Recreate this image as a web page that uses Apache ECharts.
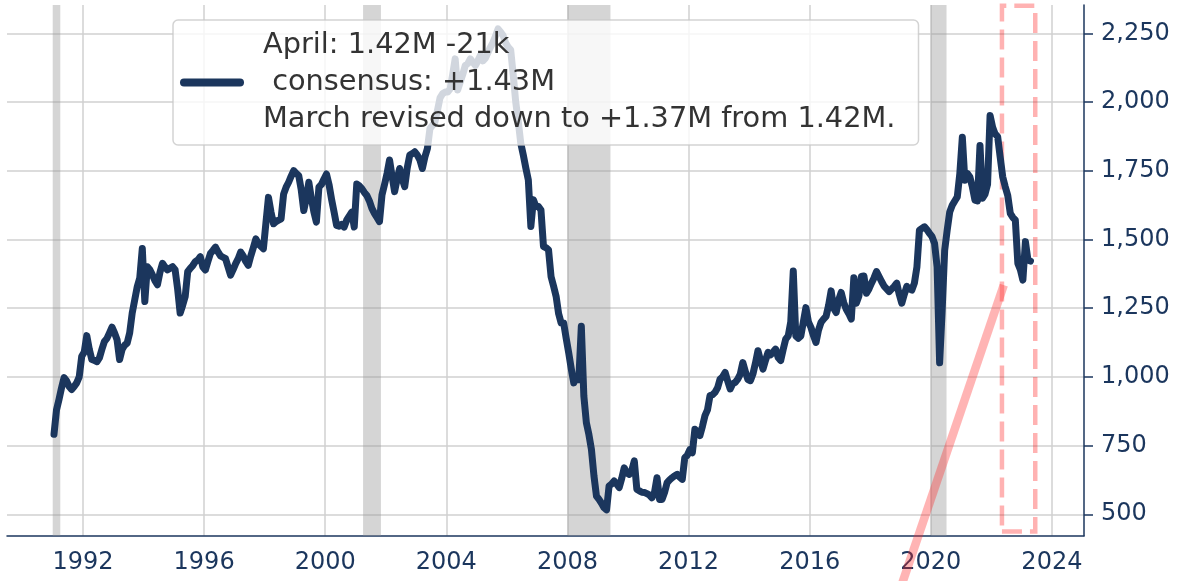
<!DOCTYPE html>
<html>
<head>
<meta charset="utf-8">
<script src="https://cdn.jsdelivr.net/npm/echarts@6/dist/echarts.min.js"></script>
<style>
html, body { margin: 0; padding: 0; background: #fff; }
#main { width: 1183px; height: 581px; }
</style>
</head>
<body>
<div id="main"></div>
<script>
// monthly building permits (thousands, SAAR), Jan 1991 .. Apr 2023
var startYear = 1991;
var permits1990s = [
  791, 880, 918, 960, 997, 985, 965, 954, 965, 978, 1000, 1075,
  1090, 1150, 1100, 1063, 1060, 1055, 1069, 1100, 1129, 1140, 1160, 1181,
  1160, 1135, 1063, 1100, 1115, 1123, 1160, 1232, 1280, 1328, 1360, 1467,
  1274, 1401, 1390, 1371, 1350, 1335, 1380, 1413, 1400, 1389, 1395, 1401,
  1390, 1320, 1232, 1260, 1292, 1383, 1395, 1405, 1419, 1425, 1437, 1400,
  1389, 1420, 1449, 1460, 1472, 1455, 1440, 1435, 1430, 1400, 1370, 1390,
  1412, 1430, 1454, 1440, 1420, 1406, 1440, 1470, 1502, 1485, 1475, 1466,
  1560, 1653, 1600, 1557, 1565, 1570, 1575, 1665, 1690, 1708, 1730, 1750,
  1740, 1732, 1680, 1605, 1650, 1708, 1650, 1600, 1563, 1690, 1700, 1720
];
var permits2000s = [
  1738, 1700, 1647, 1600, 1551, 1548, 1555, 1545, 1570, 1585, 1599, 1545,
  1702, 1695, 1685, 1671, 1660, 1640, 1613, 1595, 1580, 1565, 1662, 1700,
  1740, 1789, 1730, 1674, 1720, 1758, 1720, 1692, 1760, 1807, 1812, 1819,
  1807, 1790, 1758, 1800, 1831, 1903, 1915, 1928, 1970, 2015, 2030, 2036,
  2036, 2048, 2100, 2157, 2044, 2072, 2100, 2133, 2140, 2157, 2145, 2133,
  2150, 2170, 2150, 2160, 2180, 2200, 2217, 2240, 2266, 2255, 2242, 2215,
  2200, 2190, 2100, 2000, 1930, 1850, 1807, 1760, 1716, 1547, 1644, 1620,
  1620, 1607, 1474, 1470, 1462, 1365, 1330, 1293, 1230, 1196, 1196, 1140,
  1087, 1030, 978, 1002, 990, 1184, 930, 833, 790, 736, 640, 566,
  554, 540, 524, 516, 603, 610, 621, 610, 597, 630, 669, 650
];
var permits2010s = [
  645, 660, 694, 591, 585, 580, 579, 575, 570, 560, 580, 633,
  554, 554, 580, 615, 625, 633, 640, 645, 635, 627, 706, 715,
  735, 724, 809, 800, 786, 820, 859, 880, 932, 935, 944, 960,
  992, 1000, 1016, 985, 956, 975, 980, 992, 1010, 1052, 1020, 990,
  986, 1010, 1050, 1095, 1060, 1028, 1060, 1089, 1080, 1090, 1101, 1070,
  1059, 1100, 1137, 1149, 1200, 1385, 1149, 1140, 1149, 1200, 1252, 1200,
  1180, 1150, 1125, 1170, 1198, 1210, 1220, 1260, 1313, 1250, 1234, 1280,
  1307, 1270, 1246, 1230, 1210, 1361, 1268, 1294, 1365, 1367, 1304, 1320,
  1341, 1360, 1383, 1365, 1347, 1330, 1320, 1310, 1320, 1329, 1341, 1300,
  1268, 1300, 1329, 1320, 1316, 1341, 1400, 1534, 1540, 1546, 1535, 1522
];
var permits2020s = [
  1510, 1485, 1400, 1051, 1240, 1460, 1534, 1600, 1624, 1640, 1655, 1739,
  1872, 1715, 1740, 1727, 1690, 1643, 1640, 1842, 1650, 1665, 1700, 1951,
  1908, 1884, 1874, 1800, 1728, 1692, 1660, 1595, 1580, 1571, 1413, 1390,
  1352, 1492, 1425, 1421
];

var recessions = [[1991.0, 1991.25], [2001.25, 2001.84], [2008.0, 2009.42], [2020.0, 2020.52]];
var boxX = [2022.35, 2023.45];
var boxY = [437, 2350];
var arrowX = [2018.75, 2022.41];
var arrowY = [150, 1334];
var xTicks = [1992, 1996, 2000, 2004, 2008, 2012, 2016, 2020, 2024];
var yTicks = [500, 750, 1000, 1250, 1500, 1750, 2000, 2250];
var seriesName = 'April: 1.42M -21k\n consensus: +1.43M\nMarch revised down to +1.37M from 1.42M.';

var navy = '#1b365d';
var allValues = permits1990s.concat(permits2000s, permits2010s, permits2020s);
var lineData = allValues.map(function (v, i) {
  return [startYear + (i + 0.5) / 12, v];
});
var arrowData = arrowX.map(function (x, i) { return [x, arrowY[i]]; });

var myChart = echarts.init(document.getElementById('main'));
option = {
  animation: false,
  backgroundColor: '#fff',
  grid: { left: 7, right: 99, top: 5, bottom: 45.3, containLabel: false },
  legend: {
    data: [{
      name: seriesName,
      // capsule shaped line sample
      icon: 'path://M4,0 L60,0 A4,4 0 0 1 60,8 L4,8 A4,4 0 0 1 4,0 Z'
    }],
    left: 173,
    top: 20,
    orient: 'vertical',
    itemWidth: 64,
    itemHeight: 8,
    padding: [7, 23, 7, 7],
    backgroundColor: 'rgba(255,255,255,0.8)',
    borderColor: 'rgba(200,200,200,0.8)',
    borderWidth: 1.5,
    borderRadius: 5,
    itemStyle: { color: navy, borderWidth: 0 },
    textStyle: {
      fontFamily: 'DejaVu Sans',
      fontSize: 28.8,
      lineHeight: 37,
      color: '#333',
      padding: [0, 0, 0, 14]
    }
  },
  xAxis: {
    type: 'value',
    min: 1989.49,
    max: 2025.06,
    axisLine: { show: true, lineStyle: { color: navy, width: 1.5 } },
    axisTick: { show: false, customValues: xTicks },
    axisLabel: {
      customValues: xTicks,
      fontFamily: 'DejaVu Sans',
      fontSize: 24,
      color: navy,
      margin: 15,
      formatter: function (v) { return String(v); }
    },
    splitLine: { show: true, lineStyle: { color: '#d0d0d0', width: 1.5 } }
  },
  yAxis: {
    type: 'value',
    position: 'right',
    min: 422,
    max: 2353,
    axisLine: { show: true, lineStyle: { color: navy, width: 1.5 } },
    axisTick: { show: true, length: 9, customValues: yTicks, lineStyle: { color: navy, width: 1.5 } },
    axisLabel: {
      customValues: yTicks,
      fontFamily: 'DejaVu Sans',
      fontSize: 24,
      color: navy,
      margin: 17,
      formatter: function (v) { return v.toLocaleString('en-US'); }
    },
    splitLine: { show: true, lineStyle: { color: '#d0d0d0', width: 1.5 } }
  },
  series: [
    {
      name: seriesName,
      type: 'line',
      data: lineData,
      showSymbol: false,
      symbol: 'none',
      z: 3,
      lineStyle: { color: navy, width: 7, cap: 'round', join: 'round' },
      itemStyle: { color: navy },
      markArea: {
        silent: true,
        itemStyle: { color: 'rgba(150,150,150,0.4)' },
        data: recessions.map(function (r) {
          return [{ xAxis: r[0] }, { xAxis: r[1] }];
        })
      }
    },
    {
      name: 'arrow',
      type: 'line',
      data: arrowData,
      showSymbol: false,
      symbol: 'none',
      clip: false,
      silent: true,
      z: 4,
      lineStyle: { color: 'rgba(255,40,40,0.35)', width: 8.5, cap: 'butt' },
      markArea: {
        silent: true,
        itemStyle: {
          color: 'rgba(0,0,0,0)',
          borderColor: 'rgba(255,0,0,0.3)',
          borderWidth: 4.5,
          borderType: [20, 8]
        },
        data: [[{ coord: [boxX[0], boxY[0]] }, { coord: [boxX[1], boxY[1]] }]]
      }
    }
  ]
};

myChart.setOption(option);
</script>
</body>
</html>
